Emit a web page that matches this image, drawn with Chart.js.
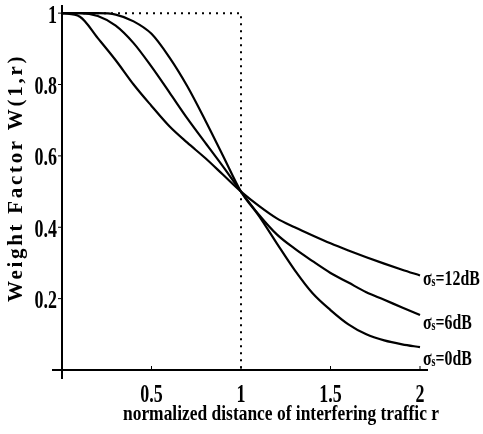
<!DOCTYPE html>
<html>
<head>
<meta charset="utf-8">
<style>
  html, body { margin: 0; padding: 0; background: #fff; }
</style>
<script src="https://cdn.jsdelivr.net/npm/chart.js@4/dist/chart.umd.min.js"></script>
</head>
<body>
<canvas id="chart" width="483" height="434"></canvas>
<script>
// normalized distance r
const rValues = [0, 0.1, 0.2, 0.3, 0.4, 0.5, 0.6, 0.7, 0.8, 0.9, 1.0,
                 1.1, 1.2, 1.3, 1.4, 1.5, 1.6, 1.7, 1.8, 1.9, 2.0];
// weight factor W(1,r) for each shadowing sigma
const w0dB  = [1, 1, 1, 0.996, 0.977, 0.942, 0.876, 0.795, 0.70, 0.60, 0.50,
               0.432, 0.355, 0.28, 0.215, 0.168, 0.128, 0.10, 0.083, 0.072, 0.064];
const w6dB  = [1, 1, 0.992, 0.965, 0.916, 0.85, 0.778, 0.705, 0.637, 0.57, 0.50,
               0.435, 0.38, 0.34, 0.305, 0.272, 0.245, 0.218, 0.197, 0.175, 0.154];
const w12dB = [1, 0.99, 0.93, 0.868, 0.80, 0.74, 0.683, 0.637, 0.594, 0.547, 0.50,
               0.46, 0.425, 0.40, 0.377, 0.355, 0.335, 0.316, 0.298, 0.281, 0.265];
// ideal step (dotted)
const stepX = [0, 1, 1];
const stepY = [1, 1, 0];

const xTicks = [0.5, 1, 1.5, 2];
const yTicks = [0.2, 0.4, 0.6, 0.8, 1];
const seriesNames = ['12dB', '6dB', '0dB'];

const FONT = '"Liberation Serif", "Times New Roman", serif';

function toPoints(xs, ys) {
    return xs.map((x, i) => ({ x: x, y: ys[i] }));
}

// condensed bold text, like the scanned figure
function narrowText(ctx, text, x, y, size, sx, align) {
    ctx.save();
    ctx.font = 'bold ' + size + 'px ' + FONT;
    const w = ctx.measureText(text).width * sx;
    let left = x;
    if (align === 'center') left = x - w / 2;
    if (align === 'right') left = x - w;
    ctx.translate(left, y);
    ctx.scale(sx, 1);
    ctx.textAlign = 'left';
    ctx.textBaseline = 'middle';
    ctx.fillText(text, 0, 0);
    ctx.restore();
    return w;
}

const curveStyle = {
    borderColor: '#000',
    borderWidth: 2.2,
    pointRadius: 0,
    fill: false,
    cubicInterpolationMode: 'monotone'
};

// axes, tick marks, labels and titles
const decorPlugin = {
    id: 'decor',
    afterDatasetsDraw(chart) {
        const { ctx, scales: { x, y } } = chart;
        const x0 = x.getPixelForValue(0);
        const y0 = y.getPixelForValue(0);
        ctx.save();
        ctx.strokeStyle = '#000';
        ctx.fillStyle = '#000';
        ctx.lineWidth = 2;
        ctx.beginPath();
        ctx.moveTo(x0 - 10, y0);
        ctx.lineTo(x.right - 4, y0);
        ctx.moveTo(x0, y.top - 1);
        ctx.lineTo(x0, y0 + 9);
        ctx.stroke();

        ctx.lineWidth = 1;
        ctx.beginPath();
        xTicks.forEach(v => {
            const px = x.getPixelForValue(v);
            ctx.moveTo(px, y0);
            ctx.lineTo(px, y0 - 4);
        });
        yTicks.forEach(v => {
            const py = y.getPixelForValue(v);
            ctx.moveTo(x0, py);
            ctx.lineTo(x0 - 4, py);
        });
        ctx.stroke();

        // tick labels
        xTicks.forEach(v => {
            narrowText(ctx, String(v), x.getPixelForValue(v), y0 + 26, 25, 0.72, 'center');
        });
        yTicks.forEach(v => {
            narrowText(ctx, String(v), x0 - 5, y.getPixelForValue(v) + 3, 25, 0.72, 'right');
        });

        // x axis title
        narrowText(ctx, 'normalized distance of interfering traffic r', 281, 415, 21, 0.83, 'center');

        // y axis title
        ctx.save();
        ctx.translate(17, 178);
        ctx.rotate(-Math.PI / 2);
        ctx.font = 'bold 21px ' + FONT;
        ctx.letterSpacing = '2.7px';
        ctx.textAlign = 'center';
        ctx.textBaseline = 'middle';
        ctx.fillText('Weight Factor W(1,r)', 0, 0);
        ctx.restore();

        // curve labels
        const ends = [w12dB, w6dB, w0dB].map(a => a[a.length - 1]);
        const offsets = [4, 8, 12];
        const lx = x.getPixelForValue(2) + 3;
        seriesNames.forEach((name, i) => {
            const py = y.getPixelForValue(ends[i]) + offsets[i];
            let cx = lx;
            cx += narrowText(ctx, '\u03C3', cx, py, 22, 0.72, 'left');
            cx += narrowText(ctx, 's', cx, py + 3, 14, 0.72, 'left');
            narrowText(ctx, '=' + name, cx, py, 22, 0.72, 'left');
        });
        ctx.restore();
    }
};

new Chart(document.getElementById('chart'), {
    type: 'line',
    data: {
        datasets: [
            Object.assign({ label: 'σs=12dB', data: toPoints(rValues, w12dB) }, curveStyle),
            Object.assign({ label: 'σs=6dB', data: toPoints(rValues, w6dB) }, curveStyle),
            Object.assign({ label: 'σs=0dB', data: toPoints(rValues, w0dB) }, curveStyle),
            {
                label: 'ideal',
                data: toPoints(stepX, stepY),
                borderColor: '#000',
                borderWidth: 2,
                borderDash: [2, 5],
                pointRadius: 0,
                tension: 0,
                fill: false
            }
        ]
    },
    options: {
        responsive: false,
        animation: false,
        layout: { padding: { top: 6, right: 51, left: 0, bottom: 0 } },
        plugins: {
            legend: { display: false },
            tooltip: { enabled: false }
        },
        scales: {
            x: {
                type: 'linear',
                min: 0,
                max: 2.067,
                grid: { display: false, drawTicks: false },
                border: { display: false },
                afterBuildTicks: s => { s.ticks = xTicks.map(v => ({ value: v })); },
                afterFit: s => { s.height = 64; },
                ticks: { display: false }
            },
            y: {
                min: 0,
                max: 1.02,
                grid: { display: false, drawTicks: false },
                border: { display: false },
                afterBuildTicks: s => { s.ticks = yTicks.map(v => ({ value: v })); },
                afterFit: s => { s.width = 62; },
                ticks: { display: false }
            }
        }
    },
    plugins: [decorPlugin]
});
</script>
</body>
</html>
